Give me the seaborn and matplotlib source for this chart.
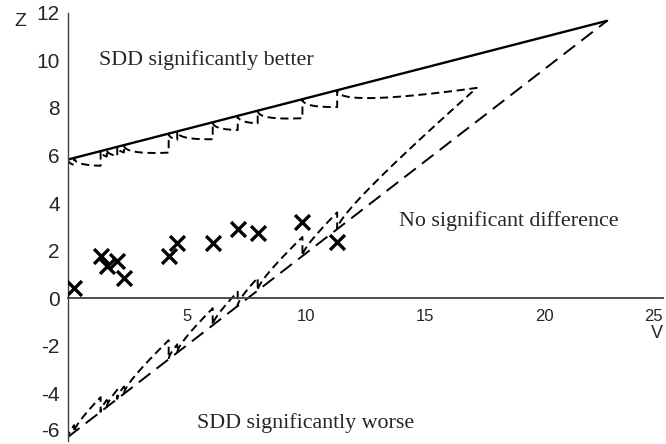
import numpy as np
import pandas as pd
import matplotlib
matplotlib.use("Agg")
import matplotlib.pyplot as plt
import seaborn as sns

# ---- data ----
look_v = [0.26, 1.37, 1.63, 2.07, 2.35, 4.23, 4.59, 6.08, 7.13, 7.97, 9.85, 11.31]
look_z = [0.42, 1.77, 1.36, 1.57, 0.86, 1.77, 2.31, 2.31, 2.90, 2.73, 3.22, 2.38]

# triangular boundaries (intercept, apex)
bound_a = 5.83          # Z intercept of boundaries at V=0
apex_v = 22.65          # V where boundaries meet
apex_z = 2 * bound_a
tree_k = 0.583          # Christmas-tree correction factor
end_v = 17.17           # V where corrected boundaries meet

xtick_vals = [5, 10, 15, 20, 25]
ytick_vals = [-6, -4, -2, 0, 2, 4, 6, 8, 10, 12]

sns.set_style("white")
plt.rcParams['font.family'] = ['Liberation Sans', 'DejaVu Sans']

fig = plt.figure(figsize=(6.66, 4.44), dpi=100)
ax = fig.add_axes([68/666, 1-441/444, (663-68)/666, (441-12.7)/444])

c = bound_a / apex_v

# straight boundaries
upper = pd.DataFrame({"V": [0, apex_v], "Z": [bound_a, apex_z]})
lower = pd.DataFrame({"V": [0, apex_v], "Z": [-bound_a, apex_z]})
sns.lineplot(data=upper, x="V", y="Z", ax=ax, color="black", lw=1.7,
             sort=False, estimator=None)
sns.lineplot(data=lower, x="V", y="Z", ax=ax, color="black", lw=1.4,
             sort=False, estimator=None, linestyle=(0, (7.5, 4.0)))

# corrected (Christmas tree) boundaries
def corrected(sign):
    vs, zs = [], []
    edges = [0.0] + look_v + [end_v]
    for i in range(len(edges) - 1):
        p, q = edges[i], edges[i + 1]
        t = np.linspace(0, 1, 40) ** 2
        v = p + (q - p) * t
        if sign > 0:
            z = bound_a + c * v - tree_k * np.sqrt(v - p)
            zt = bound_a + c * q
        else:
            z = -bound_a + 3 * c * v + tree_k * np.sqrt(v - p)
            zt = -bound_a + 3 * c * q
        vs.extend(v); zs.extend(z)
        if i < len(edges) - 2:
            vs.append(q); zs.append(zt)
    return vs, zs

uv, uz = corrected(+1)
lv, lz = corrected(-1)
tree = pd.DataFrame({"V": uv + lv[::-1], "Z": uz + lz[::-1]})
sns.lineplot(data=tree, x="V", y="Z", ax=ax, color="black", lw=1.4,
             sort=False, estimator=None, linestyle=(0, (4.2, 2.4)))

# interim looks
pts = pd.DataFrame({"V": look_v, "Z": look_z})
sns.scatterplot(data=pts, x="V", y="Z", ax=ax, marker="x", color="black",
                s=115, linewidth=2.4, zorder=5)

ax.set_xlim(0, 25)
ax.set_ylim(-6, 12)
ax.spines['top'].set_visible(False)
ax.spines['right'].set_visible(False)
ax.spines['bottom'].set_position(('data', 0))
ax.spines['bottom'].set_color('#404040')
ax.spines['left'].set_color('#404040')
ax.spines['bottom'].set_linewidth(1.3)
ax.spines['left'].set_linewidth(1.0)
ax.set_xticks(xtick_vals)
ax.set_yticks(ytick_vals)
ax.set_xticklabels([str(v) for v in xtick_vals], fontsize=12)
ax.set_yticklabels([str(v) for v in ytick_vals], fontsize=15)
ax.tick_params(axis='x', direction='out', length=4, width=1, color='#404040', pad=4)
ax.tick_params(axis='y', direction='out', length=4, width=1, color='#404040', pad=2)
ax.get_xticklabels()[-1].set_ha('right')
ax.get_yticklabels()[0].set_va('bottom')
ax.set_xlabel("")
ax.set_ylabel("")

fig.text(20/666, 1-21/444, "Z", fontsize=14, ha='center', va='center')
fig.text(657/666, 1-334/444, "V", fontsize=13, ha='center', va='center')

serif = ['Liberation Serif', 'DejaVu Serif']
ax.text(5.8, 9.80, "SDD significantly better", family=serif, fontsize=15.8,
        ha='center', va='baseline')
ax.text(18.53, 3.03, "No significant difference", family=serif, fontsize=15.8,
        ha='center', va='baseline')
ax.text(9.98, -5.45, "SDD significantly worse", family=serif, fontsize=15.8,
        ha='center', va='baseline')

fig.savefig("out.png", dpi=100)
